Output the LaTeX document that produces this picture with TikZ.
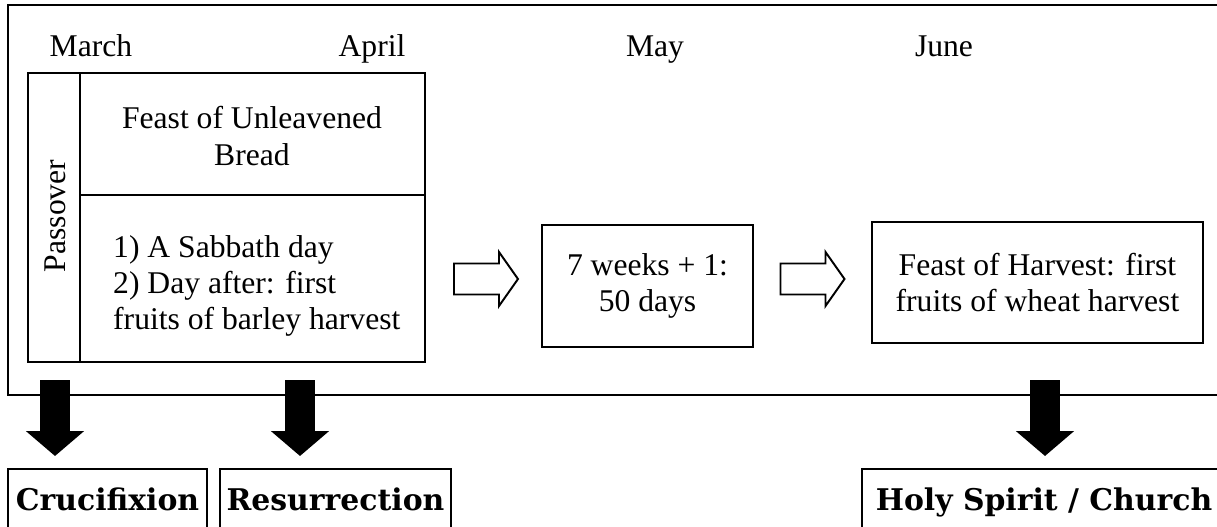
\documentclass[tikz,border=0pt]{standalone}
\usepackage{fontspec}
\setmainfont{Liberation Serif}
\newfontfamily\slabfont{DejaVu Serif}
\usetikzlibrary{arrows.meta}

\begin{document}
\begin{tikzpicture}[x=0.02cm,y=-0.02cm,
  font=\fontsize{18}{20.7}\selectfont,
  box/.style={draw,line width=1.1pt},
  month/.style={anchor=base},
  hollow/.style={draw,line width=1.1pt,line join=miter},
  down/.style={line width=0.6cm,-{Triangle[length=0.5cm,width=1.14cm]},shorten >=0.24cm},
  tag/.style={draw,line width=1.1pt,anchor=north,
    font=\slabfont\bfseries\fontsize{17}{20}\selectfont,
    text height=12.4pt,text depth=6pt,inner ysep=11.2pt}]
\useasboundingbox (0,0) rectangle (1217,527);
\clip (0,0) rectangle (1217,527);
% outer frame, open to the right
\draw[line width=1.7pt] (1240,5) -| (8,395) -- (1240,395);
% months
\foreach \m/\x in {March/91,April/372,May/655,June/944}
	\node[month] (\m) at (\x,57) {\m};
% passover and unleavened bread
\node[box,minimum width=7.94cm,minimum height=5.78cm] (feasts) at (226.5,217.5) {};
\coordinate (col) at (80,73);
\coordinate (mid) at (80,195);
\draw[line width=1.1pt] (col) -- (col |- feasts.south);
\draw[line width=1.1pt] (mid) -- (mid -| feasts.east);
\node[rotate=90] (passover) at (55,216) {Passover};
\node[align=center] (unleavened) at (252,136) {Feast of Unleavened\\Bread};
\node[anchor=west,align=left] (sabbath) at (107,286)
	{1) A Sabbath day\\2) Day after: first\\fruits of barley harvest};
% weeks and harvest
\node[box,minimum width=4.22cm,minimum height=2.44cm,align=center] (weeks) at (647.5,286)
	{7 weeks + 1:\\50 days};
\node[box,minimum width=6.62cm,minimum height=2.42cm,align=center] (harvest) at (1037.5,282.5)
	{Feast of Harvest: first\\fruits of wheat harvest};
\coordinate (arrowa) at (486,279);
\coordinate (arrowb) at (812.5,279);
\foreach \a in {arrowa,arrowb}
	\draw[hollow] (\a) ++(-32,-15.5) -- ++(45,0) -- ++(0,-11.5) -- ++(19,27)
		-- ++(-19,27) -- ++(0,-11.5) -- ++(-45,0) -- cycle;
% fulfilment
\node[tag,minimum width=3.98cm] (crucifixion) at (107.5,468) {Crucifixion};
\node[tag,minimum width=4.62cm] (resurrection) at (335.5,468) {Resurrection};
\node[tag,minimum width=7.28cm] (church) at (1044,468) {Holy Spirit / Church};
\foreach \n/\x in {crucifixion/55,resurrection/300,church/1045}
{
	\coordinate (\n top) at (\x,380);
	\draw[down] (\n top) -- (\n top |- \n.north);
}
\end{tikzpicture}
\end{document}
